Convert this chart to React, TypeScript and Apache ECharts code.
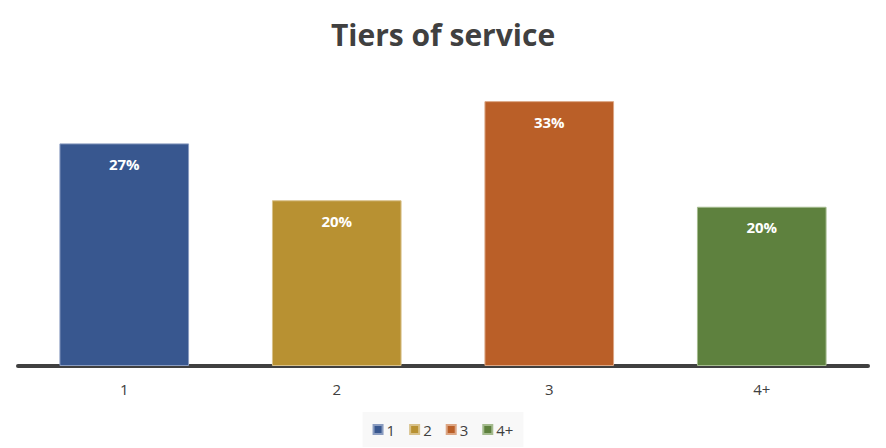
import React, { useEffect, useRef } from "react";
import * as echarts from "echarts";

const categories = ["1", "2", "3", "4+"];
const values = [0.274, 0.204, 0.326, 0.196];
const colors = ["#38578F", "#B89132", "#BA5F28", "#5E813E"];
const borderColors = ["#8A9CC0", "#D8C18A", "#DCA684", "#A4BB8E"];
const titleText = "Tiers of service";

export default function App() {
  const ref = useRef<HTMLDivElement>(null);
  useEffect(() => {
    if (!ref.current) return;
    const chart = echarts.init(ref.current, null, { renderer: "svg" });
    const series = categories.map((name, i) => ({
      name,
      type: "bar",
      barWidth: "61%",
      barGap: "-100%",
      data: categories.map((_, j) => (j === i ? values[i] : "-")),
      itemStyle: { color: colors[i], borderColor: borderColors[i], borderWidth: 1 },
      label: {
        show: true,
        position: "insideTop",
        distance: 13,
        color: "#ffffff",
        fontFamily: "Open Sans",
        fontWeight: "bold",
        fontSize: 15,
        formatter: (p: any) => Math.round(p.value * 100) + "%",
      },
    }));
    chart.setOption({
      animation: false,
      backgroundColor: "#ffffff",
      title: {
        text: titleText,
        left: "center",
        top: 11,
        padding: 0,
        textStyle: {
          fontFamily: "Open Sans",
          fontWeight: "bold",
          fontSize: 30,
          color: "#404040",
        },
      },
      legend: {
        data: categories,
        left: "center",
        top: 404,
        padding: [10, 10, 10, 10],
        backgroundColor: "#f8f8f8",
        icon: "rect",
        itemWidth: 9,
        itemHeight: 9,
        itemGap: 14,
        textStyle: { fontFamily: "Open Sans", fontSize: 15, color: "#404040", padding: [0, 0, 0, -1] },
      },
      grid: { left: 10, right: 10, top: 33, bottom: 82 },
      xAxis: {
        type: "category",
        data: categories,
        axisLine: { lineStyle: { color: "#404040", width: 4 } },
        axisTick: { show: false },
        axisLabel: { fontFamily: "Open Sans", fontSize: 15, color: "#404040", margin: 15 },
      },
      yAxis: {
        type: "value",
        min: 0,
        max: 0.4,
        show: false,
        splitLine: { show: false },
      },
      series,
    });
    return () => chart.dispose();
  }, []);
  return <div ref={ref} style={{ width: 870, height: 440 }} />;
}
